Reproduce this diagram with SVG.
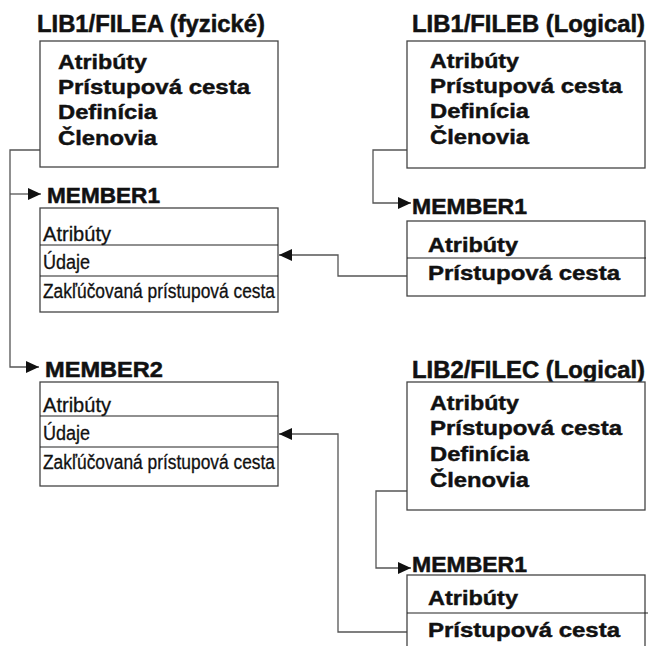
<svg xmlns="http://www.w3.org/2000/svg" width="648" height="646" viewBox="0 0 648 646">
  <defs>
    <marker id="arrow" markerUnits="userSpaceOnUse" markerWidth="14" markerHeight="12" refX="13" refY="6" orient="auto">
      <path d="M0,0 L13,6 L0,12 Z" fill="#111"/>
    </marker>
    <style>
      text { font-family: "Liberation Sans", Arial, Helvetica, sans-serif; fill: #111; }
      .title { font-size: 23px; font-weight: bold; stroke: #111; stroke-width: 0.5; }
      .mtitle { font-size: 22px; font-weight: bold; stroke: #111; stroke-width: 0.5; }
      .item { font-size: 21px; font-weight: bold; stroke: #111; stroke-width: 0.45; }
      .row { font-size: 20px; stroke: #111; stroke-width: 0.3; }
      .box { fill: #fff; stroke: #444; stroke-width: 1.3; }
      .div { stroke: #222; stroke-width: 1.2; fill: none; }
      .conn { fill: none; stroke: #555; stroke-width: 1.3; }
    </style>
  </defs>
  <rect width="648" height="646" fill="#fff"/>

  <!-- connectors -->
  <g id="connectors">
    <path class="conn" d="M40,150 H10 V367 H39" marker-end="url(#arrow)"/>
    <path class="conn" d="M10,194 H41" marker-end="url(#arrow)"/>
    <path class="conn" d="M407,150 H373 V203 H411" marker-end="url(#arrow)"/>
    <path class="conn" d="M407,276 H338 V255 H279" marker-end="url(#arrow)"/>
    <path class="conn" d="M407,491 H376 V568 H411" marker-end="url(#arrow)"/>
    <path class="conn" d="M407,632 H338 V434 H279" marker-end="url(#arrow)"/>
  </g>

  <!-- LIB1/FILEA physical file -->
  <g id="filea">
    <text class="title" x="37" y="32" textLength="228" lengthAdjust="spacingAndGlyphs">LIB1/FILEA (fyzické)</text>
    <rect class="box" x="40" y="41" width="238" height="126"/>
    <text class="item" x="58" y="69" textLength="89" lengthAdjust="spacingAndGlyphs">Atribúty</text>
    <text class="item" x="58" y="94" textLength="192" lengthAdjust="spacingAndGlyphs">Prístupová cesta</text>
    <text class="item" x="58" y="119" textLength="99" lengthAdjust="spacingAndGlyphs">Definícia</text>
    <text class="item" x="58" y="145" textLength="99" lengthAdjust="spacingAndGlyphs">Členovia</text>
  </g>

  <!-- FILEA MEMBER1 -->
  <g id="filea-member1">
    <text class="mtitle" x="47" y="203" textLength="113" lengthAdjust="spacingAndGlyphs">MEMBER1</text>
    <rect class="box" x="40" y="208" width="238" height="104"/>
    <line class="div" x1="40" y1="245" x2="278" y2="245"/>
    <line class="div" x1="40" y1="276" x2="278" y2="276"/>
    <text class="row" x="43" y="241" textLength="68" lengthAdjust="spacingAndGlyphs">Atribúty</text>
    <text class="row" x="43" y="269" textLength="47" lengthAdjust="spacingAndGlyphs">Údaje</text>
    <text class="row" x="43" y="298" textLength="232" lengthAdjust="spacingAndGlyphs">Zakľúčovaná prístupová cesta</text>
  </g>

  <!-- FILEA MEMBER2 -->
  <g id="filea-member2">
    <text class="mtitle" x="45" y="377" textLength="118" lengthAdjust="spacingAndGlyphs">MEMBER2</text>
    <rect class="box" x="40" y="382" width="238" height="104"/>
    <line class="div" x1="40" y1="416" x2="278" y2="416"/>
    <line class="div" x1="40" y1="447" x2="278" y2="447"/>
    <text class="row" x="43" y="412" textLength="68" lengthAdjust="spacingAndGlyphs">Atribúty</text>
    <text class="row" x="43" y="440" textLength="47" lengthAdjust="spacingAndGlyphs">Údaje</text>
    <text class="row" x="43" y="469" textLength="232" lengthAdjust="spacingAndGlyphs">Zakľúčovaná prístupová cesta</text>
  </g>

  <!-- LIB1/FILEB logical file -->
  <g id="fileb">
    <text class="title" x="412" y="32" textLength="233" lengthAdjust="spacingAndGlyphs">LIB1/FILEB (Logical)</text>
    <rect class="box" x="407" y="41" width="238" height="127"/>
    <text class="item" x="430" y="68" textLength="89" lengthAdjust="spacingAndGlyphs">Atribúty</text>
    <text class="item" x="430" y="93" textLength="192" lengthAdjust="spacingAndGlyphs">Prístupová cesta</text>
    <text class="item" x="430" y="118" textLength="99" lengthAdjust="spacingAndGlyphs">Definícia</text>
    <text class="item" x="430" y="144" textLength="99" lengthAdjust="spacingAndGlyphs">Členovia</text>
  </g>

  <!-- FILEB MEMBER1 -->
  <g id="fileb-member1">
    <text class="mtitle" x="412" y="214" textLength="115" lengthAdjust="spacingAndGlyphs">MEMBER1</text>
    <rect class="box" x="407" y="221" width="238" height="75"/>
    <line class="div" x1="407" y1="258" x2="646" y2="258"/>
    <text class="item" x="428" y="252" textLength="90" lengthAdjust="spacingAndGlyphs">Atribúty</text>
    <text class="item" x="428" y="280" textLength="192" lengthAdjust="spacingAndGlyphs">Prístupová cesta</text>
  </g>

  <!-- LIB2/FILEC logical file -->
  <g id="filec">
    <text class="title" x="412" y="378" textLength="233" lengthAdjust="spacingAndGlyphs">LIB2/FILEC (Logical)</text>
    <rect class="box" x="407" y="382" width="238" height="128"/>
    <text class="item" x="430" y="410" textLength="89" lengthAdjust="spacingAndGlyphs">Atribúty</text>
    <text class="item" x="430" y="435" textLength="192" lengthAdjust="spacingAndGlyphs">Prístupová cesta</text>
    <text class="item" x="430" y="461" textLength="99" lengthAdjust="spacingAndGlyphs">Definícia</text>
    <text class="item" x="430" y="487" textLength="99" lengthAdjust="spacingAndGlyphs">Členovia</text>
  </g>

  <!-- FILEC MEMBER1 -->
  <g id="filec-member1">
    <text class="mtitle" x="412" y="572" textLength="115" lengthAdjust="spacingAndGlyphs">MEMBER1</text>
    <rect class="box" x="407" y="575" width="238" height="80"/>
    <line class="div" x1="407" y1="613" x2="648" y2="613"/>
    <text class="item" x="428" y="605" textLength="90" lengthAdjust="spacingAndGlyphs">Atribúty</text>
    <text class="item" x="428" y="637" textLength="192" lengthAdjust="spacingAndGlyphs">Prístupová cesta</text>
  </g>
</svg>
